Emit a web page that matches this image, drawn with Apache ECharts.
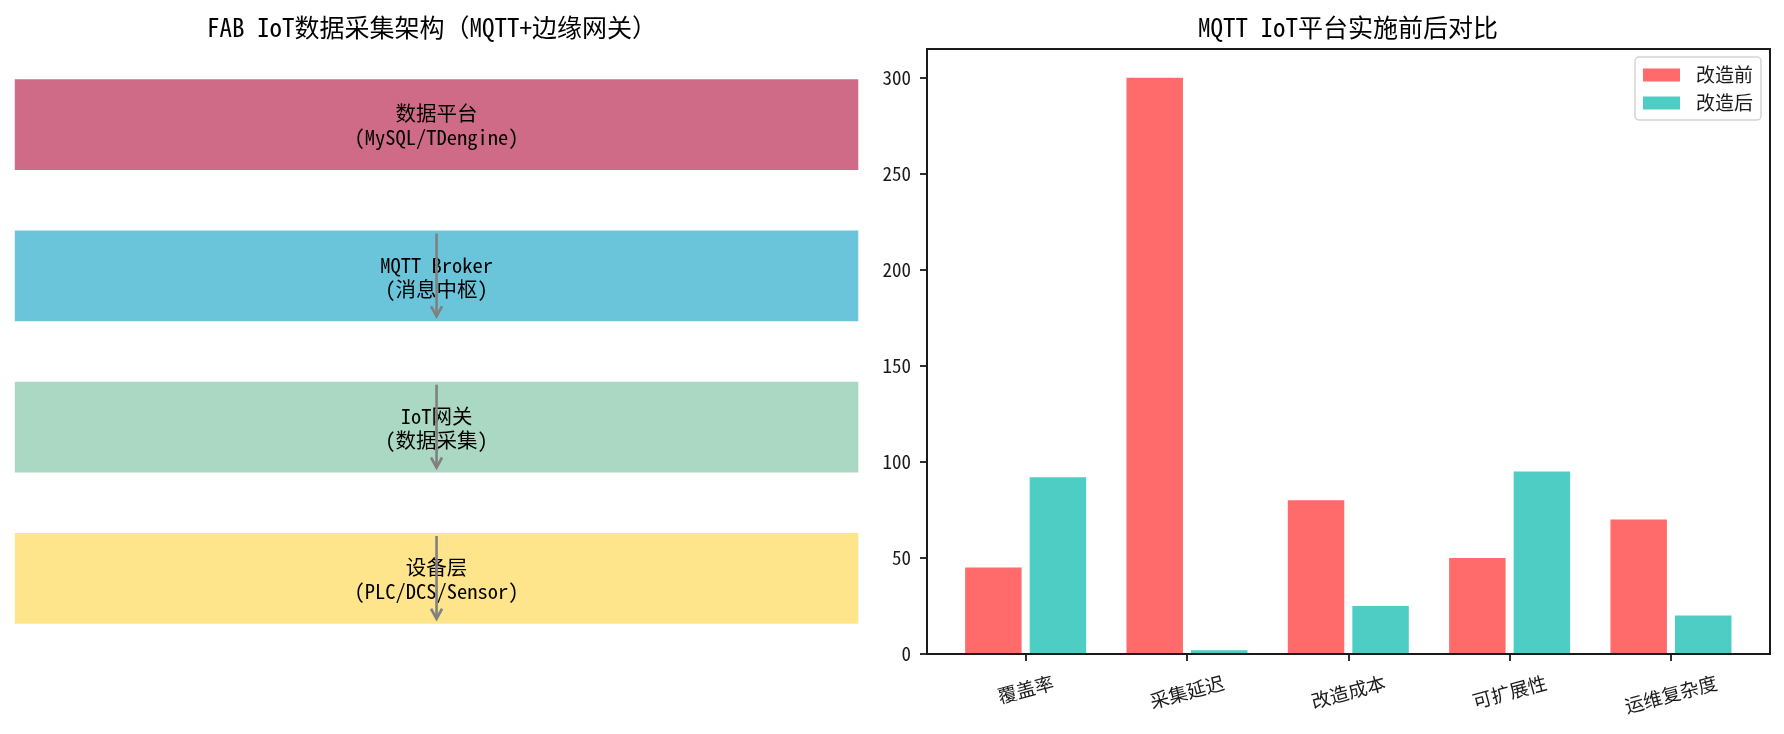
<!DOCTYPE html>
<html>
<head>
<meta charset="utf-8">
<script src="https://cdn.jsdelivr.net/npm/echarts@6/dist/echarts.min.js"></script>
<style>
  html, body { margin: 0; padding: 0; background: #fff; }
  #main { width: 1784px; height: 734px; }
</style>
</head>
<body>
<div id="main"></div>
<script>
// 左侧：架构层
const layerNames = ['数据平台', 'MQTT Broker', 'IoT网关', '设备层'];
const layerSubs = ['(MySQL/TDengine)', '(消息中枢)', '(数据采集)', '(PLC/DCS/Sensor)'];
const layerY = [7, 5, 3, 1];
const layerColors = ['#CF6B86', '#6AC5DA', '#ABD8C3', '#FEE48A'];
const arrowLayers = [1, 2, 3]; // 箭头画在这些层上

// 右侧：柱状图
const categories = ['覆盖率', '采集延迟', '改造成本', '可扩展性', '运维复杂度'];
const beforeVals = [45, 300, 80, 50, 70];
const afterVals = [92, 2, 25, 95, 20];
const yTicks = [0, 50, 100, 150, 200, 250, 300];

const FONT = "'Noto Sans Mono CJK SC', 'Noto Sans CJK SC', sans-serif";
const INK = '#1a1a1a';

const chart = echarts.init(document.getElementById('main'));

// x轴标签旋转15度后顶部对齐（类似matplotlib）
const ROT = 15, CH = 19;
const rich = {};
[3, 4, 5].forEach(n => {
  const d = n * CH * Math.sin(ROT * Math.PI / 180) / 2;
  rich['n' + n] = {
    fontSize: 19, fontFamily: FONT, color: INK,
    padding: [2 * d * Math.cos(ROT * Math.PI / 180), 2 * d * Math.sin(ROT * Math.PI / 180), 0, 0]
  };
});

const option = {
  animation: false,
  backgroundColor: '#fff',
  title: [
    {
      text: 'FAB IoT数据采集架构（MQTT+边缘网关）',
      left: 432, top: 15, padding: 0, textAlign: 'center',
      textStyle: { fontFamily: FONT, fontSize: 25, fontWeight: 'normal', color: '#000' }
    },
    {
      text: 'MQTT IoT平台实施前后对比',
      left: 1348, top: 15, padding: 0, textAlign: 'center',
      textStyle: { fontFamily: FONT, fontSize: 25, fontWeight: 'normal', color: '#000' }
    }
  ],
  legend: {
    orient: 'vertical',
    right: 23, top: 57,
    padding: [8, 8, 7, 8],
    itemWidth: 37, itemHeight: 13, itemGap: 8,
    icon: 'rect',
    backgroundColor: '#fff',
    borderColor: '#d4d4d4', borderWidth: 1.5, borderRadius: 4,
    textStyle: { fontFamily: FONT, fontSize: 19, color: INK, lineHeight: 20, padding: [0, 0, 0, 11] },
    data: ['改造前', '改造后']
  },
  grid: [
    // 0: 右侧边框
    { left: 927, right: 14, top: 49, bottom: 80, show: true, borderColor: INK, borderWidth: 2, backgroundColor: 'transparent', z: 5 },
    // 1: 右侧柱子
    { left: 945, right: 32.4, top: 49, bottom: 80 },
    // 2: 左侧架构
    { left: 14.8, right: 925.7, top: 49, bottom: 80 }
  ],
  xAxis: [
    { gridIndex: 0, type: 'value', show: false, min: 0, max: 1 },
    {
      gridIndex: 1, type: 'category', data: categories,
      axisLine: { show: false },
      axisTick: { show: true, alignWithLabel: true, length: 7, lineStyle: { color: INK, width: 1.8 } },
      axisLabel: {
        interval: 0, rotate: ROT, margin: 28, align: 'center', verticalAlign: 'middle',
        formatter: v => '{n' + v.length + '|' + v + '}',
        rich: rich
      }
    },
    { gridIndex: 2, type: 'value', show: false, min: 0, max: 10 }
  ],
  yAxis: [
    { gridIndex: 0, type: 'value', show: false, min: 0, max: 1 },
    {
      gridIndex: 1, type: 'value', min: 0, max: 315, interval: 50, offset: 18,
      axisLine: { show: false },
      axisTick: { show: true, length: 7, lineStyle: { color: INK, width: 1.8 } },
      splitLine: { show: false },
      axisLabel: {
        margin: 16, fontFamily: FONT, fontSize: 19, color: INK, showMaxLabel: false,
        formatter: v => (yTicks.indexOf(v) >= 0 ? String(v) : '')
      }
    },
    { gridIndex: 2, type: 'value', show: false, min: 0, max: 8 }
  ],
  series: [
    {
      name: '改造前', type: 'bar', xAxisIndex: 1, yAxisIndex: 1,
      data: beforeVals, barWidth: '35%', barGap: '14.3%',
      itemStyle: { color: '#FF6B6B' }
    },
    {
      name: '改造后', type: 'bar', xAxisIndex: 1, yAxisIndex: 1,
      data: afterVals, barWidth: '35%', barGap: '14.3%',
      itemStyle: { color: '#4ECDC4' }
    },
    {
      // 架构层方块 + 文字
      type: 'custom', xAxisIndex: 2, yAxisIndex: 2, silent: true,
      data: layerY.map((y, i) => [i, y]),
      renderItem: (params, api) => {
        const i = api.value(0), y = api.value(1);
        const p0 = api.coord([0, y + 0.6]);
        const p1 = api.coord([10, y - 0.6]);
        const c = api.coord([5, y]);
        return {
          type: 'group',
          children: [
            {
              type: 'rect',
              shape: { x: p0[0], y: p0[1], width: p1[0] - p0[0], height: p1[1] - p0[1] },
              style: { fill: layerColors[i] }
            },
            {
              type: 'text',
              x: c[0], y: c[1] + 1,
              style: {
                text: layerNames[i] + '\n' + layerSubs[i],
                fill: '#000', fontSize: 20.5, fontFamily: FONT,
                align: 'center', verticalAlign: 'middle', lineHeight: 24
              }
            }
          ]
        };
      },
      z: 3
    },
    {
      // 向下的箭头
      type: 'custom', xAxisIndex: 2, yAxisIndex: 2, silent: true,
      data: arrowLayers.map(i => [i, layerY[i]]),
      renderItem: (params, api) => {
        const y = api.value(1);
        const a = api.coord([5, y + 0.6]);
        const b = api.coord([5, y - 0.6]);
        const x = a[0], y0 = a[1] + 3, y1 = b[1] - 5;
        const st = { stroke: '#808080', lineWidth: 2.6, fill: null };
        return {
          type: 'group',
          children: [
            { type: 'line', shape: { x1: x, y1: y0, x2: x, y2: y1 }, style: st },
            { type: 'polyline', shape: { points: [[x - 5.5, y1 - 10], [x, y1], [x + 5.5, y1 - 10]] }, style: st }
          ]
        };
      },
      z: 4
    }
  ]
};

chart.setOption(option);
</script>
</body>
</html>
